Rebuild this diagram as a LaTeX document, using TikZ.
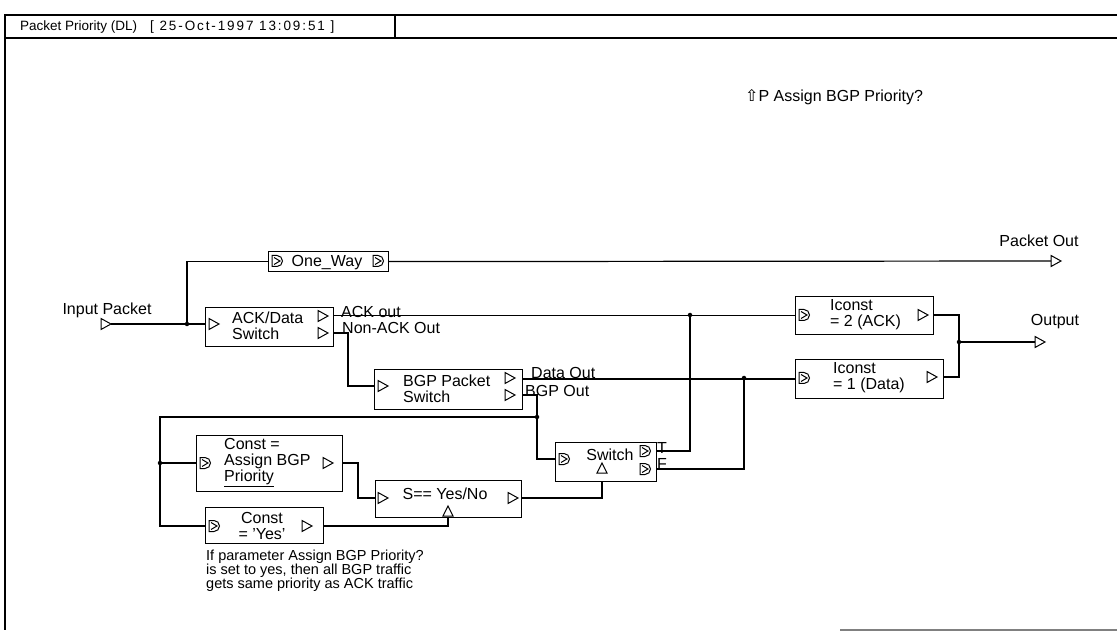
\documentclass[tikz,border=0pt]{standalone}
\usepackage{fontspec}
\setmainfont{Liberation Sans}
\newfontfamily\symfont{DejaVu Sans}
\usetikzlibrary{positioning}

\tikzset{
  blk/.style={draw, line width=1.2pt, inner sep=0pt, anchor=north west},
  lbl/.style={inner sep=0pt, font=\fontsize{16}{16}\selectfont, align=left},
  ttl/.style={inner sep=0pt, font=\fontsize{13.5}{14}\selectfont, anchor=west},
  note/.style={inner sep=0pt, font=\fontsize{14.5}{14}\selectfont, align=left, anchor=north west},
  wire/.style={line width=1.2pt},
  jdot/.style={circle, fill, inner sep=0pt, minimum size=4.5pt},
  tri/.pic={\draw[line width=1pt] (-5,-5.5) -- (5,0) -- (-5,5.5) -- cycle;},
  uptri/.pic={\draw[line width=1pt] (-5,5) -- (0,-5) -- (5,5) -- cycle;},
  dport/.pic={\draw[line width=1pt] (-5,-5.5) -- (-5,5.5) -- (0,5.5)
      arc[start angle=90, end angle=-90, radius=5.5] -- cycle;
    \draw[line width=1pt] (-3,-3.5) -- (3,0) -- (-3,3.5);}
}

\begin{document}
\begin{tikzpicture}[x=1pt, y=-1pt]
\useasboundingbox (0,0) rectangle (1117,636);

% frame and title bar
\draw[line width=1.2pt] (1117,15) -- (5,15) -- (5,630);
\draw[line width=1.2pt] (5,38) -- (1117,38);
\draw[line width=1.2pt] (395,15) -- (395,38);
\draw[gray, line width=1.2pt] (840,630) -- (1117,630);
\node[ttl] (title) at (20,27) {Packet Priority (DL)};
\node[ttl] (stamp) at (150,27) {\addfontfeature{LetterSpace=14}[ 25-Oct-1997 13:09:51 ]};

\node[lbl, anchor=west] (param) at (745,97) {{\symfont ⇧}P Assign BGP Priority?};

% input and one way
\node[lbl] (inlbl) at (107,310) {Input Packet};
\pic at (106,324) {tri};
\coordinate (inp) at (111,324);
\coordinate (jin) at (187,324);

\node[blk, minimum width=120, minimum height=20] (oneway) at (268,251) {};
\pic at (277,261) {dport};
\pic at (378,261) {dport};
\node[lbl] at (327,263) {One\_Way};

\node[lbl] (pktlbl) at (1039,241) {Packet Out};
\pic at (1056,261) {tri};
\coordinate (pktout) at (1051,261);

% ACK/Data switch
\node[blk, minimum width=128, minimum height=39] (ackdata) at (205,307) {};
\pic at (214,324) {tri};
\node[lbl, anchor=west] at (232,326) {ACK/Data\\Switch};
\pic at (323,316) {tri};
\pic at (323,333) {tri};
\node[lbl, anchor=base west] (acklbl) at (341,318) {ACK out};
\node[lbl, anchor=base west] (nacklbl) at (342,334) {Non-ACK Out};

% BGP packet switch
\node[blk, minimum width=148, minimum height=40] (bgpsw) at (374,369) {};
\pic at (383,386) {tri};
\node[lbl, anchor=west] at (403,389) {BGP Packet\\Switch};
\pic at (510,378) {tri};
\pic at (510,395) {tri};
\node[lbl, anchor=base west] (datalbl) at (531,378) {Data Out};
\node[lbl, anchor=base west] (bgplbl) at (525,396) {BGP Out};

% switch
\node[blk, minimum width=101, minimum height=39] (sw) at (555,442) {};
\pic at (564,459) {dport};
\node[lbl] at (610,455) {Switch};
\pic at (602,468) {uptri};
\pic at (645,451) {dport};
\pic at (645,469) {dport};
\node[lbl, anchor=base west] (tlbl) at (657,453) {T};
\node[lbl, anchor=base west] (flbl) at (657,469) {F};

% iconst blocks
\node[blk, minimum width=138, minimum height=38] (iack) at (795,296) {};
\pic at (804,315) {dport};
\node[lbl, anchor=west] at (830,315) {Iconst\\= 2 (ACK)};
\pic at (923,315) {tri};

\node[blk, minimum width=148, minimum height=39] (idata) at (795,359) {};
\pic at (804,378) {dport};
\node[lbl, anchor=west] at (833,378) {Iconst\\= 1 (Data)};
\pic at (932,377) {tri};

\node[lbl] (outlbl) at (1055,322) {Output};
\pic at (1040,342) {tri};
\coordinate (out) at (1035,342);
\coordinate (jout) at (959,342);

% constants and compare
\node[blk, minimum width=146, minimum height=56] (cpri) at (196,435) {};
\pic at (205,463) {dport};
\node[lbl, anchor=west] at (224,463) {Const =\\Assign BGP\\\underline{Priority}};
\pic at (328,463) {tri};

\node[blk, minimum width=146, minimum height=37] (seq) at (375,480) {};
\pic at (383,498) {tri};
\node[lbl] at (445,494) {S== Yes/No};
\pic at (448,511) {uptri};
\pic at (513,498) {tri};

\node[blk, minimum width=118, minimum height=36] (cyes) at (205,507) {};
\pic at (214,526) {dport};
\node[lbl, align=center] at (262,526) {Const\\= 'Yes'};
\pic at (307,526) {tri};

\node[note] (cmt) at (206,550) {If parameter Assign BGP Priority?\\is set to yes, then all BGP traffic\\gets same priority as ACK traffic};

% connections
\draw[wire] (inp) -- (ackdata.west |- inp);
\draw[wire] (jin) |- (oneway.west);
\node[jdot] at (jin) {};
\draw[wire] (oneway.east) -- (pktout);

\draw[wire] (ackdata.east |- iack.west) -- (iack.west);
\node[jdot] (jt) at (690,315) {};
\draw[wire] (ackdata.east |- 0,333) -- (348,333) |- (bgpsw.west |- 0,386);

\draw[wire] (bgpsw.east |- idata.west) -- (idata.west);
\node[jdot] (jf) at (744,378) {};
\draw[wire] (bgpsw.east |- 0,395) -- (537,395) |- (sw.west |- 0,459);
\node[jdot] (jbgp) at (537,417) {};
\draw[wire] (jbgp) -- (160,417) |- (cyes.west |- 0,526);
\node[jdot] (jc) at (160,463) {};
\draw[wire] (jc) -- (cpri.west |- jc);

\draw[wire] (sw.east |- 0,451) -| (jt.center);
\draw[wire] (sw.east |- 0,469) -| (jf.center);

\draw[wire] (iack.east |- 0,315) -- (959,315) -- (959,377) -- (idata.east |- 0,377);
\node[jdot] at (jout) {};
\draw[wire] (jout) -- (out);

\draw[wire] (cpri.east |- 0,463) -- (358,463) |- (seq.west |- 0,498);
\draw[wire] (seq.east |- 0,498) -| (sw.south -| 602,0);
\draw[wire] (cyes.east |- 0,526) -| (seq.south -| 448,0);
\end{tikzpicture}
\end{document}
